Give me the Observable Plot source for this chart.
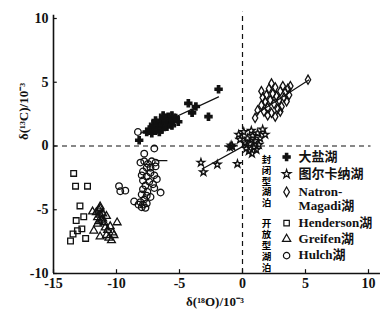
<!DOCTYPE html>
<html><head><meta charset="utf-8">
<script src="https://cdn.jsdelivr.net/npm/d3@7"></script>
<script src="https://cdn.jsdelivr.net/npm/@observablehq/plot@0.6"></script>
<style>
body{margin:0;background:#fff;}
svg{font-family:"Liberation Serif","DejaVu Serif","Noto Sans CJK SC",serif;font-weight:bold;}
</style>
</head><body><div id="chart"></div>
<script>
const xTicks = [-15, -10, -5, 0, 5, 10];
const yTicks = [-10, -5, 0, 5, 10];
const xLabel = "δ(¹⁸O)/10⁻³";
const yLabel = "δ(¹³C)/10⁻³";

// 大盐湖 (Great Salt Lake)
const saltX = [-8.2, -7.6, -7.4, -7.2, -7.0, -6.9, -6.8, -6.7, -6.6, -6.5, -6.4, -6.3, -6.2, -6.1, -6.0, -5.9, -5.8, -5.7, -5.6, -5.5, -5.3, -5.1, -7.1, -6.6, -6.3, -6.9, -5.6, -4.3, -3.7, -4.0, -2.7, -1.9];
const saltY = [0.45, 1.1, 1.3, 1.0, 1.5, 1.2, 1.8, 1.4, 1.6, 2.0, 1.3, 1.7, 2.2, 1.9, 1.5, 2.3, 1.8, 2.1, 2.4, 2.0, 2.2, 1.9, 1.7, 1.1, 2.4, 2.0, 1.6, 3.35, 3.1, 2.6, 2.3, 4.45];
// 图尔卡纳湖 (Turkana)
const turkX = [-3.3, -3.1, -2.0, -0.4, -1.0, -0.8, -0.9, -0.3, 0.1, 0.4, 0.6, 0.3, 0.8, 1.0, 1.2, 1.4, 1.6, 1.8, 0.5, 0.9, 1.3, 0.2, -0.2, 0.7, 1.1, 0.75];
const turkY = [-1.3, -2.05, -1.45, -1.4, -0.1, -0.05, 0.05, 0.9, 1.1, 0.6, 0.2, -0.2, 0.8, 0.4, 1.0, 0.6, 1.3, 0.9, -0.4, -0.1, 0.1, 0.3, 0.5, 1.2, -0.3, -0.6];
// Natron-Magadi湖
const natX = [1.0, 1.2, 1.5, 1.6, 1.5, 1.8, 1.9, 2.0, 2.1, 2.2, 2.3, 2.4, 2.5, 2.6, 2.7, 2.8, 2.9, 3.0, 3.1, 3.2, 3.3, 3.4, 3.5, 3.6, 3.7, 3.8, 2.0, 1.7, 2.6, 3.0, 2.3, 5.2];
const natY = [2.2, 2.8, 3.2, 3.8, 4.3, 3.5, 4.0, 3.0, 4.5, 3.6, 2.6, 4.1, 3.3, 4.6, 3.9, 2.9, 3.6, 4.3, 3.1, 4.7, 3.8, 4.2, 3.5, 4.5, 4.0, 4.7, 2.4, 2.7, 2.3, 2.7, 4.9, 5.2];
// Henderson湖
const hendX = [-13.4, -13.25, -12.3, -12.9, -13.2, -12.6, -12.75, -13.1, -13.45, -12.45, -13.65];
const hendY = [-2.15, -3.15, -3.15, -4.7, -5.85, -5.55, -6.5, -6.65, -6.9, -7.25, -7.45];
// Greifen湖
const greifX = [-11.9, -11.3, -9.95, -11.8, -11.6, -11.5, -11.4, -11.3, -11.2, -11.1, -11.0, -10.8, -11.5, -11.3, -11.1, -11.4, -10.9, -10.7, -10.5, -10.3, -10.8, -10.6, -10.4, -10.2, -11.3];
const greifY = [-5.15, -4.75, -6.0, -6.65, -5.2, -5.6, -5.0, -5.4, -5.8, -5.3, -6.0, -5.5, -6.1, -4.9, -5.7, -5.9, -6.4, -6.6, -6.3, -6.8, -7.0, -7.2, -7.4, -7.0, -7.1];
// Hulch湖
const hulchX = [-8.3, -7.0, -7.8, -8.1, -7.8, -7.5, -7.2, -6.9, -6.9, -7.6, -7.9, -7.3, -7.0, -7.6, -6.8, -7.9, -7.4, -7.1, -7.7, -7.0, -6.5, -7.55, -7.9, -8.0, -7.6, -7.3, -7.8, -8.1, -8.6, -8.25, -7.9, -7.6, -8.0, -7.7, -9.8, -9.3, -9.7, -7.3, -8.0];
const hulchY = [1.1, -0.2, -0.6, -1.3, -1.2, -1.4, -1.2, -1.3, -1.6, -1.7, -2.0, -2.1, -2.3, -2.4, -2.6, -2.7, -2.8, -3.0, -3.1, -3.3, -3.65, -3.6, -3.4, -3.8, -3.9, -4.0, -4.2, -4.4, -4.35, -4.6, -4.6, -4.5, -4.8, -4.85, -3.15, -3.5, -3.55, -1.7, -2.3];

// trend lines (endpoints)
const saltLineX = [-8.1, -1.9], saltLineY = [1.0, 3.85];
const turkLineX = [-3.2, 1.0], turkLineY = [-1.8, 0.5];
const natLineX = [1.17, 5.26], natLineY = [2.56, 5.18];
const hulchLineX = [-6.8, -6.0], hulchLineY = [-1.15, -1.15];

const legendNames = ["大盐湖", "图尔卡纳湖", "Natron-\nMagadi湖", "Henderson湖", "Greifen湖", "Hulch湖"];
const legendSymbols = ["cross", "star", "diamond", "square", "triangle", "circle"];
const legendRowY = [-0.86, -2.2, -3.6, -6.05, -7.3, -8.6];
const groupLabels = ["封闭型湖泊", "开放型湖泊"];
const groupLabelY = [-2.55, -7.6];

const symR = {cross: 3.0, star: 2.4, diamond: 2.8, square: 3.2, triangle: 2.9, circle: 3.3};
const legR = {cross: 2.3, star: 2.0, diamond: 2.3, square: 2.4, triangle: 2.4, circle: 2.6};

const series = [
  {xs: saltX, ys: saltY, sym: "cross", filled: true},
  {xs: turkX, ys: turkY, sym: "star"},
  {xs: natX, ys: natY, sym: "diamond"},
  {xs: hendX, ys: hendY, sym: "square"},
  {xs: greifX, ys: greifY, sym: "triangle"},
  {xs: hulchX, ys: hulchY, sym: "circle"}
];
const pts = s => s.xs.map((x, i) => ({x, y: s.ys[i]}));
const seg = (xs, ys) => xs.map((x, i) => ({x, y: ys[i]}));

const dotMarks = series.map(s => Plot.dot(pts(s), {
  x: "x", y: "y", symbol: () => s.sym, r: symR[s.sym],
  stroke: "#111", strokeWidth: 1.3, fill: s.filled ? "#111" : "none"
}));

const legendData = legendNames.map((n, i) => ({n, s: legendSymbols[i], y: legendRowY[i]}));

const plot = Plot.plot({
  width: 385, height: 319,
  marginLeft: 53, marginRight: 17, marginTop: 18, marginBottom: 46,
  x: {domain: [-15, 10]},
  y: {domain: [-10, 10]},
  style: {fontFamily: "Liberation Serif, Noto Sans CJK SC, serif", fontWeight: "bold", fontSize: "14px", color: "#111", background: "#fff"},
  marks: [
    Plot.ruleY([0], {x1: -15, x2: 10.2, stroke: "#111", strokeWidth: 1.2, strokeDasharray: "5,4"}),
    Plot.ruleX([0], {y1: -10, y2: 10.5, stroke: "#111", strokeWidth: 1.2, strokeDasharray: "5,4"}),
    Plot.ruleX([-15], {y1: -10, y2: 10.25, stroke: "#111", strokeWidth: 1.6}),
    Plot.ruleY([-10], {x1: -15, x2: 10.95, stroke: "#111", strokeWidth: 1.6}),
    Plot.ruleX(xTicks, {y1: -10, y2: -9.7, stroke: "#111", strokeWidth: 1.2}),
    Plot.ruleY(yTicks, {x1: -15, x2: -14.7, stroke: "#111", strokeWidth: 1.2}),
    Plot.axisX({ticks: xTicks, tickSize: 0, tickPadding: 5, tickFormat: d => String(d), fontSize: 14, label: null}),
    Plot.axisY({ticks: yTicks, tickSize: 0, tickPadding: 5, tickFormat: d => String(d), fontSize: 14, label: null}),
    Plot.text([xLabel], {frameAnchor: "bottom", dy: 32, dx: 4, fontSize: 13, fill: "#111"}),
    Plot.text([yLabel], {frameAnchor: "left", rotate: -90, dx: -30, dy: -6, fontSize: 13, fill: "#111"}),
    Plot.line(seg(saltLineX, saltLineY), {x: "x", y: "y", stroke: "#111", strokeWidth: 1.2}),
    Plot.line(seg(turkLineX, turkLineY), {x: "x", y: "y", stroke: "#111", strokeWidth: 1.2}),
    Plot.line(seg(natLineX, natLineY), {x: "x", y: "y", stroke: "#111", strokeWidth: 1.2}),
    Plot.line(seg(hulchLineX, hulchLineY), {x: "x", y: "y", stroke: "#111", strokeWidth: 1.2}),
    ...dotMarks,
    Plot.dot(legendData, {x: () => 3.5, y: "y", symbol: "s", r: d => legR[d.s], stroke: "#111", strokeWidth: 1.2,
      fill: d => d.s === "cross" ? "#111" : "none"}),
    Plot.text(legendData, {x: () => 4.45, y: "y", text: "n", textAnchor: "start", fontSize: 13, fill: "#111", lineAnchor: "top", dy: -7, lineHeight: 1.15}),
    Plot.text(groupLabels, {x: () => 1.9, y: (d, i) => groupLabelY[i], text: d => d, fontSize: 9.5, fontFamily: "Noto Sans CJK SC", fontWeight: 700, fill: "#000"})
  ]
});
// render the two group labels vertically (upright CJK characters)
plot.querySelectorAll("text").forEach(t => {
  if (groupLabels.includes(t.textContent)) {
    t.removeAttribute("dy");
    t.style.writingMode = "vertical-rl";
    t.style.letterSpacing = "1.3px";
    t.setAttribute("text-anchor", "middle");
  }
});
document.getElementById("chart").appendChild(plot);
</script>
</body></html>
